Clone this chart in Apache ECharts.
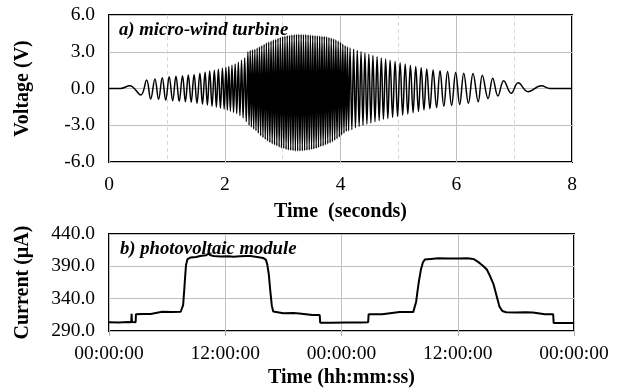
<!DOCTYPE html>
<html><head><meta charset="utf-8">
<script src="https://cdn.jsdelivr.net/npm/echarts@6/dist/echarts.min.js"></script>
<style>html,body{margin:0;padding:0;background:#fff}#c{width:620px;height:390px}</style>
</head><body><div id="c"></div>
<script>
// a) micro-wind turbine: successive peaks/troughs (seconds, volts)
const waveTime = [0, 0.2, 0.36, 0.55, 0.65, 0.72, 0.794, 0.857, 0.92, 0.98, 1.04, 1.10, 1.157, 1.213, 1.27, 1.32, 1.37, 1.42, 1.47, 1.52, 1.57, 1.615, 1.66, 1.70, 1.74, 1.78, 1.82, 1.855, 1.89, 1.925, 1.96, 1.99, 2.02, 2.045, 2.07, 2.097, 2.125, 2.152, 2.18, 2.207, 2.235, 2.262, 2.29, 2.317, 2.345, 2.372,
  2.40, 2.42, 2.44, 2.46, 2.48, 2.50, 2.52, 2.54, 2.56, 2.58, 2.60, 2.62, 2.64, 2.66, 2.68, 2.70, 2.72, 2.74, 2.76, 2.78, 2.80, 2.82, 2.84, 2.86, 2.88, 2.90, 2.92, 2.94, 2.96, 2.98, 3.00, 3.02, 3.04, 3.06, 3.08, 3.10, 3.12, 3.14, 3.16, 3.18, 3.20, 3.22, 3.24, 3.26, 3.28, 3.30, 3.32, 3.34, 3.36, 3.38, 3.40, 3.42, 3.44, 3.46, 3.48, 3.50, 3.52, 3.54, 3.56, 3.58, 3.60, 3.62, 3.64, 3.66, 3.68, 3.70, 3.72, 3.74, 3.76, 3.78, 3.80, 3.82, 3.84, 3.86, 3.88, 3.90, 3.92, 3.94, 3.96, 3.98, 4.00, 4.02, 4.04, 4.06, 4.08, 4.10, 4.12, 4.14,
  4.165, 4.196, 4.227, 4.258, 4.29, 4.322, 4.355, 4.388, 4.422, 4.456, 4.49, 4.525, 4.56, 4.596, 4.632, 4.668, 4.705, 4.742, 4.78, 4.818, 4.857, 4.90, 4.943, 4.986, 5.03, 5.074, 5.118, 5.163, 5.208, 5.254, 5.30, 5.347, 5.394, 5.442, 5.49, 5.545, 5.60, 5.66, 5.72, 5.785, 5.85, 5.92, 5.99, 6.06, 6.13, 6.21, 6.29, 6.38, 6.45, 6.55, 6.63, 6.72, 6.82, 6.95, 7.07, 7.24, 7.47, 7.62, 8.0];
const waveVolt = [0, 0, 0.23, -0.53, 0.69, -0.86, 0.78, -0.88, 0.88, -0.95, 0.95, -1.0, 1.0, -1.05, 1.05, -1.08, 1.1, -1.12, 1.15, -1.2, 1.25, -1.27, 1.32, -1.35, 1.42, -1.45, 1.5, -1.52, 1.57, -1.6, 1.65, -1.67, 1.72, -1.75, 1.8, -1.85, 1.9, -1.95, 2.0, -2.05, 2.15, -2.2, 2.3, -2.4, 2.5, -2.7,
  3.0, -3.0, 3.1, -3.15, 3.15, -3.3, 3.2, -3.45, 3.3, -3.65, 3.4, -3.85, 3.5, -4.0, 3.6, -4.15, 3.72, -4.28, 3.8, -4.4, 3.88, -4.5, 3.95, -4.6, 4.02, -4.67, 4.1, -4.77, 4.17, -4.85, 4.23, -4.9, 4.28, -4.97, 4.32, -5.02, 4.35, -5.05, 4.38, -5.08, 4.4, -5.1, 4.42, -5.1, 4.43, -5.1, 4.42, -5.09, 4.41, -5.07, 4.4, -5.05, 4.38, -5.02, 4.36, -4.98, 4.34, -4.94, 4.33, -4.9, 4.3, -4.82, 4.28, -4.74, 4.26, -4.67, 4.25, -4.6, 4.22, -4.52, 4.17, -4.44, 4.11, -4.35, 4.05, -4.22, 3.98, -4.1, 3.88, -3.95, 3.77, -3.8, 3.62, -3.65, 3.5, -3.5, 3.4, -3.45,
  3.3, -3.35, 3.2, -3.2, 3.1, -3.1, 3.0, -3.0, 2.9, -2.9, 2.8, -2.82, 2.7, -2.72, 2.6, -2.62, 2.5, -2.52, 2.4, -2.45, 2.3, -2.35, 2.2, -2.27, 2.1, -2.18, 2.0, -2.08, 1.9, -1.97, 1.8, -1.87, 1.7, -1.75, 1.6, -1.65, 1.52, -1.55, 1.45, -1.45, 1.38, -1.38, 1.3, -1.3, 1.25, -1.2, 1.22, -1.08, 1.08, -0.82, 0.83, -0.61, 0.64, -0.39, 0.46, -0.26, 0.22, 0, 0];

// b) photovoltaic module: hours since first midnight, current in µA
const pvHours = [0, 1, 2, 2.3, 2.33, 2.37, 2.75, 2.78, 3.5, 4.3, 4.33, 5.5, 6.5, 7.4, 7.55, 7.65, 7.75, 7.85, 7.95, 8.1, 8.4, 9, 9.4, 10, 10.25, 10.5, 10.8, 11.5, 12.3, 12.9, 13.5, 14.2, 14.6, 15.3, 15.9, 16.2, 16.35, 16.5, 16.65, 16.8, 16.95, 17.15, 18, 19, 19.65, 19.7, 21, 21.75, 21.8, 23, 24.5, 26, 26.75, 26.8, 28.2, 28.25, 30, 31.4, 31.55, 31.7, 31.85, 32, 32.2, 32.4, 32.6, 33.2, 34, 35, 36, 37, 37.6, 37.9, 38.3, 38.6, 39, 39.3, 39.7, 40, 40.3, 40.6, 41, 42, 43, 43.75, 43.8, 45, 45.85, 45.9, 48];
const pvCurrent = [303.5, 303.2, 303.8, 303.5, 316.5, 303.8, 303.5, 315.8, 316.2, 316.4, 319.2, 319.6, 319.3, 319.8, 322, 330, 350, 372, 392, 401, 403.5, 404.5, 406, 407, 409.5, 407, 406, 405.2, 405.6, 405, 405.5, 406, 405.8, 404.5, 403, 400, 392, 377, 352, 330, 320, 317.5, 317.4, 317.8, 317.2, 314.8, 314.6, 314.7, 302.8, 302.6, 303, 303.3, 303.5, 315.8, 316, 318.8, 319.5, 319.2, 322, 335, 352, 368, 385, 396, 400.5, 401.5, 402.6, 402.3, 402.2, 402.5, 401.5, 399, 394.5, 391, 385, 376, 362, 345, 328, 321, 319, 318.8, 319, 318.6, 316, 315.8, 316, 302.5, 302.2];
const pvTickLabels = ['00:00:00', '12:00:00', '00:00:00', '12:00:00', '00:00:00'];

const FONT = "'Liberation Serif','Times New Roman',serif";
const waveData = waveTime.map((t, i) => [t, waveVolt[i]]);
const pvData = pvHours.map((h, i) => [h, pvCurrent[i]]);

const chart = echarts.init(document.getElementById('c'), null, {renderer: 'canvas'});
const lbl = {color: '#000', fontFamily: FONT, fontSize: 19.5};
const nameStyle = {color: '#000', fontFamily: FONT, fontSize: 20, fontWeight: 'bold'};
const panelStyle = {fontFamily: FONT, fontSize: 18.7, fontWeight: 'bold', fontStyle: 'italic', color: '#000'};
chart.setOption({
  animation: false,
  backgroundColor: '#fff',
  grid: [
    {left: 109, top: 15, width: 463, height: 147, show: true, borderColor: '#000', borderWidth: 2, backgroundColor: 'transparent'},
    {left: 109, top: 234, width: 465, height: 97, show: true, borderColor: '#000', borderWidth: 2, backgroundColor: 'transparent'}
  ],
  title: [
    {text: 'a) micro-wind turbine', left: 114, top: 16, textStyle: panelStyle},
    {text: 'b) photovoltaic module', left: 115, top: 235, textStyle: panelStyle}
  ],
  xAxis: [
    {gridIndex: 0, type: 'value', min: 0, max: 8, interval: 2,
     axisLine: {show: false}, axisTick: {show: false},
     axisLabel: Object.assign({margin: 13}, lbl),
     splitLine: {show: true, lineStyle: {color: '#c0c0c0', width: 1}},
     minorTick: {show: false, splitNumber: 2},
     minorSplitLine: {show: true, lineStyle: {color: '#d8d8d8', width: 1, type: [4, 3]}},
     name: 'Time  (seconds)', nameLocation: 'middle', nameGap: 40, nameTextStyle: nameStyle},
    {gridIndex: 1, type: 'value', min: 0, max: 48, interval: 12,
     axisLine: {show: false},
     axisTick: {show: true, length: 5, lineStyle: {color: '#b0b0b0'}},
     axisLabel: Object.assign({margin: 13, formatter: (v) => pvTickLabels[Math.round(v / 12)]}, lbl),
     splitLine: {show: true, lineStyle: {color: '#c0c0c0', width: 1}},
     name: 'Time (hh:mm:ss)', nameLocation: 'middle', nameGap: 37, nameTextStyle: nameStyle}
  ],
  yAxis: [
    {gridIndex: 0, type: 'value', min: -6, max: 6, interval: 3,
     axisLine: {show: false}, axisTick: {show: false},
     axisLabel: Object.assign({margin: 14, formatter: (v) => v.toFixed(1)}, lbl),
     splitLine: {show: true, lineStyle: {color: '#c0c0c0', width: 1}},
     name: 'Voltage (V)', nameLocation: 'middle', nameGap: 76, nameTextStyle: nameStyle},
    {gridIndex: 1, type: 'value', min: 290, max: 440, interval: 50,
     axisLine: {show: false}, axisTick: {show: false},
     axisLabel: Object.assign({margin: 14, formatter: (v) => v.toFixed(1)}, lbl),
     splitLine: {show: true, lineStyle: {color: '#c0c0c0', width: 1}},
     name: 'Current (µA)', nameLocation: 'middle', nameGap: 76, nameTextStyle: nameStyle}
  ],
  series: [
    {type: 'line', xAxisIndex: 0, yAxisIndex: 0, data: waveData, showSymbol: false, smooth: 0.4,
     lineStyle: {color: '#000', width: 1.5}, z: 3},
    {type: 'line', xAxisIndex: 1, yAxisIndex: 1, data: pvData, showSymbol: false,
     lineStyle: {color: '#000', width: 2}, z: 3}
  ]
});
</script>
</body></html>
